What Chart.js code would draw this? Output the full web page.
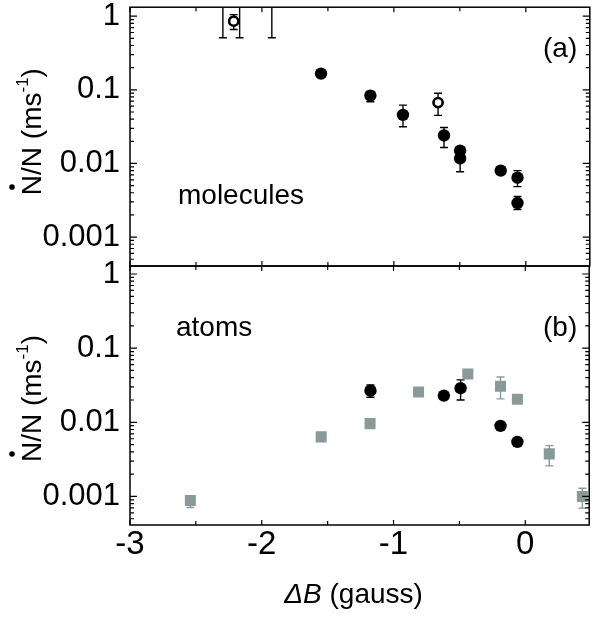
<!DOCTYPE html>
<html>
<head>
<meta charset="utf-8">
<script src="https://cdn.jsdelivr.net/npm/chart.js@4.4.1/dist/chart.umd.min.js"></script>
<style>
  html, body { margin: 0; padding: 0; background: #fff; }
  #wrap { position: relative; width: 597px; height: 618px; }
  canvas { position: absolute; left: 0; }
  #topChart { top: 0; }
  #bottomChart { top: 240px; }
</style>
</head>
<body>
<div id="wrap">
  <canvas id="topChart" width="597" height="300"></canvas>
  <canvas id="bottomChart" width="597" height="378"></canvas>
</div>
<script>
// axis ticks
const xTicks = [-3, -2, -1, 0];
const xTickLabels = ['-3', '-2', '-1', '0'];
const yTicks = [1, 0.1, 0.01, 0.001];
const yTickLabels = ['1', '0.1', '0.01', '0.001'];

// (a) molecules, filled circles (first three points lie above the axis, only their bars show)
const molX   = [-2.296, -2.169, -1.925, -1.552, -1.178, -0.931, -0.620, -0.498, -0.498, -0.190, -0.063, -0.063];
const molY   = [2.5, 2.5, 2.5, 0.166, 0.0835, 0.0457, 0.024, 0.0149, 0.0117, 0.0080, 0.0064, 0.0029];
const molLo  = [0.51, 0.51, 0.51, null, 0.069, 0.0315, 0.0165, null, 0.0077, null, 0.00485, 0.00237];
const molHi  = [12, 12, 12, null, 0.095, 0.062, 0.0308, null, 0.0135, null, 0.0080, 0.00356];

// (a) molecules, open circles
const molOpenX  = [-2.214, -0.665];
const molOpenY  = [0.855, 0.067];
const molOpenLo = [0.66, 0.045];
const molOpenHi = [1.05, 0.090];

// (b) atoms, black circles
const atomX  = [-1.175, -0.618, -0.491, -0.188, -0.060];
const atomY  = [0.0267, 0.0229, 0.0288, 0.00894, 0.00544];
const atomLo = [0.0218, null, 0.020, null, null];
const atomHi = [0.0319, null, 0.0373, null, null];

// (b) atoms, grey squares
const sqX  = [-2.542, -1.549, -1.178, -0.810, -0.436, -0.188, -0.060, 0.182, 0.433];
const sqY  = [0.00088, 0.00636, 0.0096, 0.0257, 0.0449, 0.0306, 0.0205, 0.00375, 0.00100];
const sqLo = [0.00071, null, null, null, null, 0.0207, null, 0.00258, 0.000695];
const sqHi = [0.00095, null, null, null, null, 0.0409, null, 0.00485, 0.00129];

const FONT = '"Liberation Sans", Arial, Helvetica, sans-serif';
const GREY = '#889a9a';
Chart.defaults.font.family = FONT;
Chart.defaults.color = '#000';

function pts(xs, ys) {
    return xs.map((x, i) => ({ x: x, y: ys[i] }));
}

function drawYTitle(ctx, x, cy) {
    ctx.save();
    ctx.translate(x, cy);
    ctx.rotate(-Math.PI / 2);
    const big = '28px ' + FONT;
    const small = '17px ' + FONT;
    ctx.fillStyle = '#000';
    ctx.textAlign = 'left';
    ctx.textBaseline = 'alphabetic';
    ctx.font = big;
    const part1 = 'N/N (ms';
    const wN = ctx.measureText('N').width;
    const w1 = ctx.measureText(part1).width;
    const w3 = ctx.measureText(')').width;
    ctx.font = small;
    const w2 = ctx.measureText('-1').width;
    const sx = -(w1 + w2 + w3) / 2;
    ctx.font = big;
    ctx.fillText(part1, sx, 0);
    ctx.beginPath();
    ctx.arc(sx + wN / 2 - 2, -29, 2.8, 0, Math.PI * 2);
    ctx.fill();
    ctx.font = small;
    ctx.fillText('-1', sx + w1, -13);
    ctx.font = big;
    ctx.fillText(')', sx + w1 + w2, 0);
    ctx.restore();
}

const panelDecor = {
    id: 'panelDecor',
    beforeDatasetsDraw(chart) {
        // error bars
        const { ctx, chartArea: a } = chart;
        const xs = chart.scales.x, ys = chart.scales.y;
        ctx.save();
        ctx.beginPath();
        ctx.rect(a.left, a.top, a.right - a.left, a.bottom - a.top);
        ctx.clip();
        chart.data.datasets.forEach(ds => {
            if (!ds.errLow) return;
            ctx.strokeStyle = ds.errColor;
            ctx.lineWidth = 1.4;
            ds.data.forEach((p, i) => {
                const lo = ds.errLow[i], hi = ds.errHigh[i];
                if (lo == null) return;
                const px = xs.getPixelForValue(p.x);
                const y1 = ys.getPixelForValue(lo), y2 = ys.getPixelForValue(hi);
                ctx.beginPath();
                ctx.moveTo(px, y1); ctx.lineTo(px, y2);
                ctx.moveTo(px - 4, y1); ctx.lineTo(px + 4, y1);
                ctx.moveTo(px - 4, y2); ctx.lineTo(px + 4, y2);
                ctx.stroke();
            });
        });
        ctx.restore();
    },
    afterDraw(chart, args, opts) {
        const { ctx, chartArea: a } = chart;
        const x = chart.scales.x, y = chart.scales.y;
        ctx.save();
        // frame
        ctx.strokeStyle = '#000';
        ctx.lineWidth = 1.5;
        ctx.strokeRect(a.left, a.top, a.right - a.left, a.bottom - a.top);
        // inward ticks
        ctx.lineWidth = 1.2;
        ctx.beginPath();
        for (let v = Math.ceil(x.min * 2) / 2; v <= x.max + 1e-9; v += 0.5) {
            const px = x.getPixelForValue(v);
            const len = Number.isInteger(v) ? 5 : 4;
            ctx.moveTo(px, a.bottom); ctx.lineTo(px, a.bottom - len);
            ctx.moveTo(px, a.top); ctx.lineTo(px, a.top + len);
        }
        for (let e = -4; e <= 0; e++) {
            for (let m = 1; m <= 9; m++) {
                const v = m * Math.pow(10, e);
                if (v < y.min || v > y.max) continue;
                const py = y.getPixelForValue(v);
                const len = m === 1 ? 7 : 4;
                ctx.moveTo(a.left, py); ctx.lineTo(a.left + len, py);
                ctx.moveTo(a.right, py); ctx.lineTo(a.right - len, py);
            }
        }
        ctx.stroke();
        // panel texts
        ctx.fillStyle = '#000';
        ctx.textAlign = 'left';
        ctx.textBaseline = 'alphabetic';
        ctx.font = '28px ' + FONT;
        opts.texts.forEach(t => ctx.fillText(t.text, a.left + t.dx, a.top + t.dy));
        ctx.restore();

        drawYTitle(ctx, 41, (a.top + a.bottom) / 2 + opts.titleShift);

        if (opts.xTitle) {
            ctx.save();
            ctx.fillStyle = '#000';
            ctx.textBaseline = 'alphabetic';
            ctx.textAlign = 'left';
            const reg = '28px ' + FONT, ital = 'italic 28px ' + FONT;
            ctx.font = ital;
            const wD = ctx.measureText('\u0394').width;
            const wB = ctx.measureText('B').width;
            ctx.font = reg;
            const wR = ctx.measureText(' (gauss)').width;
            const sx = (a.left + a.right) / 2 - 6 - (wD + wB + wR) / 2;
            const by = a.bottom + 78;
            ctx.font = ital; ctx.fillText('\u0394', sx, by);
            ctx.fillText('B', sx + wD, by);
            ctx.font = reg; ctx.fillText(' (gauss)', sx + wD + wB, by);
            ctx.restore();
        }
    }
};

function makeOptions(cfg) {
    return {
        responsive: false,
        animation: false,
        devicePixelRatio: 1,
        layout: { padding: { top: cfg.padTop, bottom: cfg.padBottom, left: 0, right: 1 } },
        plugins: {
            legend: { display: false },
            tooltip: { enabled: false },
            panelDecor: { texts: cfg.texts, titleShift: cfg.titleShift, xTitle: cfg.xTitle }
        },
        scales: {
            x: {
                type: 'linear',
                min: -3,
                max: 0.485,
                display: cfg.showX,
                border: { display: false },
                grid: { display: false, drawTicks: false },
                afterBuildTicks: s => { s.ticks = xTicks.map(v => ({ value: v })); },
                afterFit: s => { s.height = cfg.xHeight; s.paddingLeft = 0; s.paddingRight = 0; },
                ticks: {
                    autoSkip: false,
                    maxRotation: 0,
                    padding: 0,
                    font: { size: 33 },
                    callback: (v, i) => xTickLabels[i]
                }
            },
            y: {
                type: 'logarithmic',
                min: cfg.yMin,
                max: cfg.yMax,
                border: { display: false },
                grid: { display: false, drawTicks: false },
                afterBuildTicks: s => { s.ticks = yTicks.map(v => ({ value: v })); },
                afterFit: s => { s.width = 130; s.paddingTop = 0; s.paddingBottom = 0; },
                ticks: {
                    autoSkip: false,
                    padding: 10,
                    font: { size: 31 },
                    callback: (v) => yTickLabels[yTicks.indexOf(v)]
                }
            }
        }
    };
}

new Chart(document.getElementById('topChart'), {
    type: 'scatter',
    data: {
        datasets: [
            {
                data: pts(molX, molY),
                errLow: molLo, errHigh: molHi, errColor: '#000',
                pointStyle: 'circle', pointRadius: 6.2, borderWidth: 0,
                backgroundColor: '#000', borderColor: '#000'
            },
            {
                data: pts(molOpenX, molOpenY),
                errLow: molOpenLo, errHigh: molOpenHi, errColor: '#000',
                pointStyle: 'circle', pointRadius: 4.6, borderWidth: 2.6,
                backgroundColor: '#fff', borderColor: '#000'
            }
        ]
    },
    options: makeOptions({
        padTop: 6, padBottom: 34, showX: false, xHeight: 0,
        yMin: 0.000405, yMax: 1.324, titleShift: -5, xTitle: false,
        texts: [ { text: '(a)', dx: 413, dy: 50 }, { text: 'molecules', dx: 48, dy: 197 } ]
    }),
    plugins: [panelDecor]
});

new Chart(document.getElementById('bottomChart'), {
    type: 'scatter',
    data: {
        datasets: [
            {
                data: pts(sqX, sqY),
                errLow: sqLo, errHigh: sqHi, errColor: GREY,
                pointStyle: 'rect', pointRadius: 7.8, borderWidth: 0,
                backgroundColor: GREY, borderColor: GREY
            },
            {
                data: pts(atomX, atomY),
                errLow: atomLo, errHigh: atomHi, errColor: '#000',
                pointStyle: 'circle', pointRadius: 6.2, borderWidth: 0,
                backgroundColor: '#000', borderColor: '#000'
            }
        ]
    },
    options: makeOptions({
        padTop: 26, padBottom: 0, showX: true, xHeight: 93,
        yMin: 0.000412, yMax: 1.282, titleShift: 3, xTitle: true,
        texts: [ { text: 'atoms', dx: 46, dy: 70 }, { text: '(b)', dx: 413, dy: 70 } ]
    }),
    plugins: [panelDecor]
});
</script>
</body>
</html>
